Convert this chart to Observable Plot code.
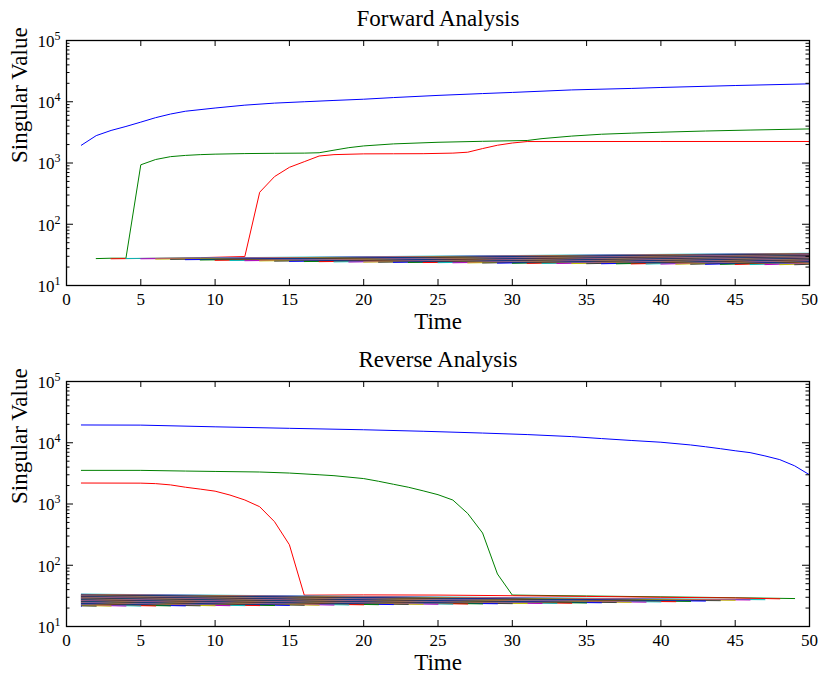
<!DOCTYPE html>
<html><head><meta charset="utf-8">
<script src="https://cdn.jsdelivr.net/npm/d3@7"></script>
<script src="https://cdn.jsdelivr.net/npm/@observablehq/plot@0.6"></script>
<style>
html,body{margin:0;padding:0;background:#fff;}
body{width:821px;height:674px;overflow:hidden;}
#chart svg{display:block;}
#chart svg text{font-family:'Liberation Serif','Times New Roman',Times,serif !important;font-variant:normal !important;}
</style></head>
<body><div id="chart"></div>
<script>
// MATLAB default line colour order
const lineColors = ["#0000ff", "#008000", "#ff0000", "#00bfbf", "#bf00bf", "#bfbf00", "#404040"];
const xTicks = [0, 5, 10, 15, 20, 25, 30, 35, 40, 45, 50];
const yMajor = [10, 100, 1000, 10000, 100000];
const yMinor = [20,30,40,50,60,70,80,90, 200,300,400,500,600,700,800,900,
                2000,3000,4000,5000,6000,7000,8000,9000, 20000,30000,40000,50000,60000,70000,80000,90000];
const titles = ["Forward Analysis", "Reverse Analysis"];
const xLabel = "Time";
const yLabel = "Singular Value";

// ---------- Forward analysis: [time, singular value] ----------
const fwdBlue = [[1,1950],[2,2800],[3,3400],[4,3950],[5,4650],[6,5500],[7,6300],[8,7000],[10,7900],[12,8800],
  [14,9500],[16,10000],[18,10500],[20,11000],[22,11700],[25,12700],[28,13600],[30,14200],[34,15600],[38,16500],
  [40,17100],[45,18400],[50,19600]];
const fwdGreen = [[2,27.5],[3,27.9],[4,27.9],[5,935],[6,1140],[7,1270],[8,1330],[9,1370],[10,1395],[12,1425],
  [14,1440],[16,1450],[17,1470],[18,1620],[19,1780],[20,1900],[22,2050],[25,2180],[28,2260],[31,2330],[32,2500],
  [34,2750],[36,2950],[38,3070],[40,3180],[43,3330],[46,3450],[50,3600]];
const fwdRed = [[3,27.3],[6,27.8],[9,28.5],[12,29.7],[13,333],[14,600],[15,850],[16,1050],[17,1300],[18,1370],
  [20,1410],[22,1415],[24,1420],[26,1450],[27,1500],[28,1720],[29,1950],[30,2120],[31,2240],[40,2245],[50,2245]];
// noise singular values, ranks 4..50: value where each line starts (t = rank) and its value at t = 50
const fwdNoiseStart = [27.6,27.3,27.0,26.7,26.4,26.1,25.8,25.6,25.4,25.2,
  25.0,24.8,24.6,24.5,24.3,24.2,24.1,24.0,23.9,23.8,
  23.7,23.6,23.5,23.4,23.3,23.2,23.1,23.0,22.95,22.9,
  22.8,22.7,22.65,22.6,22.5,22.45,22.4,22.3,22.25,22.2,
  22.15,22.1,22.0,21.95,21.9,21.85,21.8];
const fwdNoiseEnd = [33.6,33.2,32.9,32.6,32.3,32.0,31.8,31.5,31.3,31.0,
  30.8,30.5,30.3,30.1,29.8,29.6,29.4,29.2,29.0,28.7,
  28.5,28.3,28.1,27.9,27.7,27.5,27.2,27.0,26.8,26.6,
  26.4,26.2,25.9,25.7,25.5,25.2,25.0,24.7,24.5,24.2,
  23.9,23.6,23.3,23.0,22.6,22.2,21.8];

// ---------- Reverse analysis ----------
const revBlue = [[1,19500],[5,19400],[10,18200],[15,17200],[20,16300],[24,15400],[28,14400],[31,13600],[34,12600],
  [36,11700],[38,10900],[40,10200],[42,9200],[43,8600],[44,8000],[45,7400],[46,6900],[47,6100],[48,5300],[49,4200],[50,3000]];
const revGreen = [[1,3540],[5,3540],[8,3450],[10,3400],[13,3330],[15,3200],[17,3000],[18,2900],[20,2600],[21,2350],
  [22,2100],[23,1880],[24,1640],[25,1420],[26,1160],[27,700],[28,336],[29,72],[30,32.6],[35,31.5],[40,30.5],[45,29.5],[49,28.6]];
const revRed = [[1,2200],[5,2190],[6,2150],[7,2050],[8,1880],[9,1750],[10,1620],[11,1400],[12,1163],[13,903],
  [14,514],[15,216],[16,32.5],[20,32.8],[25,32.6],[30,31.8],[35,31.0],[40,30.0],[45,29.2],[48,28.3]];
// noise ranks 4..50: value at t = 1 and value where the line ends (t = 51 - rank)
const revNoiseStart = [33.8,33.4,33.0,32.7,32.4,32.1,31.8,31.5,31.2,31.0,
  30.7,30.5,30.2,30.0,29.7,29.5,29.2,29.0,28.7,28.5,
  28.2,28.0,27.8,27.5,27.3,27.0,26.8,26.6,26.3,26.1,
  25.8,25.6,25.3,25.1,24.8,24.6,24.3,24.0,23.8,23.5,
  23.2,22.9,22.6,22.3,22.0,21.7,21.4];
const revNoiseEnd = [27.4,27.1,26.8,26.4,26.0,25.7,25.4,25.2,25.0,24.8,
  24.6,24.4,24.2,24.0,23.9,23.8,23.7,23.6,23.5,23.4,
  23.3,23.2,23.1,23.0,22.9,22.8,22.7,22.6,22.5,22.4,
  22.3,22.2,22.1,22.0,21.95,21.9,21.85,21.8,21.75,21.7,
  21.7,21.65,21.6,21.6,21.55,21.5,21.4];

function seriesRows(pairs, k) {
  return pairs.map(([t, v]) => ({t, v, k, color: lineColors[(k - 1) % 7]}));
}
const fwdRows = [
  ...seriesRows(fwdBlue, 1), ...seriesRows(fwdGreen, 2), ...seriesRows(fwdRed, 3),
  ...fwdNoiseStart.flatMap((s, i) => { const k = i + 4; return seriesRows([[k, s], [50, fwdNoiseEnd[i]]], k); })
];
const revRows = [
  ...seriesRows(revBlue, 1), ...seriesRows(revGreen, 2), ...seriesRows(revRed, 3),
  ...revNoiseStart.flatMap((s, i) => { const k = i + 4; return seriesRows([[1, s], [51 - k, revNoiseEnd[i]]], k); })
];

const FONT = "'Liberation Serif', 'Times New Roman', Times, serif";
function makePlot(title, rows, mt, mb) {
  const H = 245, W = 743;
  const svg = Plot.plot({
    width: 821, height: mt + H + mb,
    marginLeft: 66, marginRight: 12, marginTop: mt, marginBottom: mb,
    style: {fontFamily: FONT, fontSize: "17px", background: "white", color: "black", overflow: "visible"},
    x: {domain: [0, 50], axis: null},
    y: {type: "log", domain: [10, 100000], axis: null},
    color: {type: "identity"},
    marks: [
      Plot.line(rows, {x: "t", y: "v", z: "k", stroke: "color", strokeWidth: 1}),
      Plot.tickX(xTicks, {x: d => d, insetTop: H - 6, stroke: "black"}),
      Plot.tickX(xTicks, {x: d => d, insetBottom: H - 6, stroke: "black"}),
      Plot.tickY(yMajor, {y: d => d, insetRight: W - 7, stroke: "black"}),
      Plot.tickY(yMajor, {y: d => d, insetLeft: W - 7, stroke: "black"}),
      Plot.tickY(yMinor, {y: d => d, insetRight: W - 3.5, stroke: "black"}),
      Plot.tickY(yMinor, {y: d => d, insetLeft: W - 3.5, stroke: "black"}),
      Plot.frame({stroke: "black", strokeWidth: 1.3}),
      Plot.text(xTicks, {x: d => d, text: d => String(d), frameAnchor: "bottom", lineAnchor: "middle", dy: 14.5, fontSize: 17, fontFamily: FONT}),
      Plot.text(yMajor, {y: d => d, text: d => "10^" + Math.round(Math.log10(d)), frameAnchor: "left", textAnchor: "end", lineAnchor: "middle", dx: -6, dy: 1, fontSize: 17, fontFamily: FONT}),
      Plot.text([title], {text: d => d, frameAnchor: "top", lineAnchor: "middle", dy: -22, fontSize: 23, fontFamily: FONT}),
      Plot.text([xLabel], {text: d => d, frameAnchor: "bottom", lineAnchor: "middle", dy: 36, fontSize: 23, fontFamily: FONT}),
      Plot.text([yLabel], {text: d => d, frameAnchor: "left", lineAnchor: "middle", dx: -47, rotate: -90, fontSize: 23, fontFamily: FONT})
    ]
  });
  svg.querySelectorAll("text").forEach(t => {
    const m = /^10\^(\d)$/.exec(t.textContent);
    if (m) {
      t.textContent = "10";
      const ts = document.createElementNS("http://www.w3.org/2000/svg", "tspan");
      ts.setAttribute("dy", "-7");
      ts.setAttribute("font-size", "12");
      ts.textContent = m[1];
      t.appendChild(ts);
    }
  });
  return svg;
}

const chart = document.getElementById("chart");
chart.appendChild(makePlot(titles[0], fwdRows, 40, 52));
chart.appendChild(makePlot(titles[1], revRows, 44, 48));
</script>
</body></html>
